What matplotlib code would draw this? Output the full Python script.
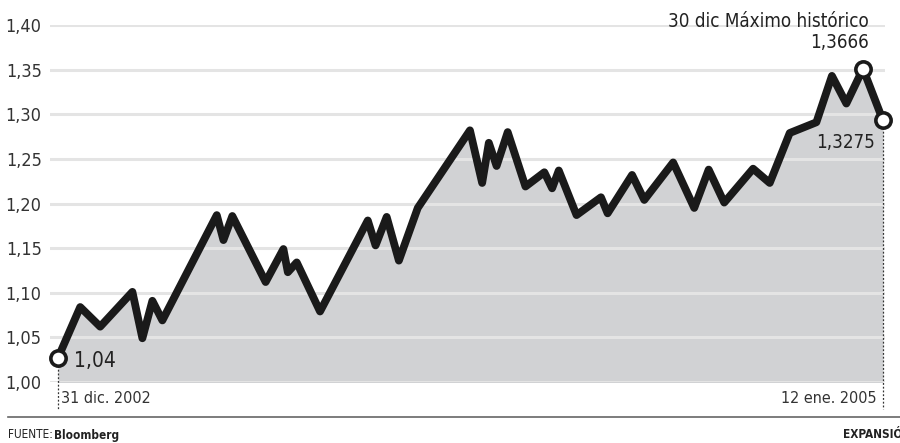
import matplotlib
matplotlib.use("Agg")
import matplotlib.pyplot as plt

plt.rcParams['font.family'] = ['DejaVu Sans']
plt.rcParams['font.stretch'] = 'condensed'

# dias desde el 31 dic. 2002 y cotizacion euro/dolar
dias = [0, 20, 38, 67, 76, 85, 94, 143, 149, 157, 187, 203, 207, 215, 236,
        279, 286, 296, 307, 324, 371, 382, 388, 395, 405, 421, 438, 445, 451,
        467, 489, 495, 517, 528, 554, 573, 586, 600, 626, 641, 659, 683, 697,
        710, 725, 743]
valores = [1.027, 1.084, 1.062, 1.101, 1.049, 1.091, 1.069, 1.187, 1.159, 1.186,
           1.112, 1.149, 1.123, 1.134, 1.079, 1.181, 1.153, 1.185, 1.136, 1.195,
           1.282, 1.223, 1.268, 1.242, 1.280, 1.219, 1.235, 1.217, 1.237, 1.187,
           1.207, 1.189, 1.232, 1.204, 1.246, 1.195, 1.238, 1.201, 1.239, 1.223,
           1.279, 1.291, 1.343, 1.312, 1.351, 1.293]
yticks = [1.00, 1.05, 1.10, 1.15, 1.20, 1.25, 1.30, 1.35, 1.40]
ytick_labels = ['1,00', '1,05', '1,10', '1,15', '1,20', '1,25', '1,30', '1,35', '1,40']
fecha_ini, fecha_fin = '31 dic. 2002', '12 ene. 2005'
idx_max = 44

fig = plt.figure(figsize=(9, 4.43), dpi=100)
ax = fig.add_axes([50/900, 1-382/443, 835/900, 357/443])
ax.set_xlim(-7.2, 744.8)
ax.set_ylim(1.0, 1.40)

ax.fill_between(dias, valores, 0.9, color='#d1d2d4', lw=0, zorder=1)
for t in yticks:
    ax.axhline(t, color='#e4e4e4', lw=2.2, zorder=2)
ax.plot(dias, valores, color='#1a1a1a', lw=5.6, solid_joinstyle='round',
        solid_capstyle='butt', zorder=3)
for i in [0, idx_max, len(dias)-1]:
    ax.plot(dias[i], valores[i], 'o', ms=11, mfc='white', mec='#1a1a1a', mew=2.6,
            zorder=4, clip_on=False)

# lineas punteadas de inicio y fin
for i in [0, len(dias)-1]:
    ax.plot([dias[i], dias[i]], [valores[i], 0.97], color='#333333', lw=0.9,
            ls=(0, (1.5, 1.5)), zorder=2, clip_on=False)

ax.set_yticks(yticks)
ax.set_yticklabels(ytick_labels, fontsize=13, color='#333333')
ax.tick_params(axis='y', length=0, pad=6)
ax.set_xticks([])
for s in ax.spines.values():
    s.set_visible(False)

ax.text(dias[0]+14, valores[0]-0.003, '1,04', fontsize=15, color='#222222', va='center')
ax.text(dias[idx_max]+5, 1.393, '30 dic Máximo histórico', fontsize=13.5, color='#222222',
        ha='right', va='bottom', clip_on=False)
ax.text(dias[idx_max]+5, 1.380, '1,3666', fontsize=13.5, color='#222222', ha='right', va='center')
ax.text(dias[-1]-7, 1.268, '1,3275', fontsize=13.5, color='#222222', ha='right', va='center')
ax.text(dias[0]+3, 0.982, fecha_ini, fontsize=11.5, color='#333333', ha='left', va='center')
ax.text(dias[-1]-6, 0.982, fecha_fin, fontsize=11.5, color='#333333', ha='right', va='center')

# pie
fig.add_artist(plt.Line2D([8/900, 1], [1-417/443]*2, color='#666666', lw=1.2))
t = fig.text(8/900, 1-435/443, 'FUENTE: ', fontsize=8.5, color='#222222', va='center')
fig.canvas.draw()
bb = t.get_window_extent()
fig.text(bb.x1/900 - 0.002, 1-435/443, 'Bloomberg', fontsize=8.5, fontweight='bold',
         color='#222222', va='center')
fig.text(843/900, 1-435/443, 'EXPANSIÓN', fontsize=8.5, fontweight='bold',
         color='#222222', va='center', ha='left')

fig.savefig('out.png', dpi=100)
